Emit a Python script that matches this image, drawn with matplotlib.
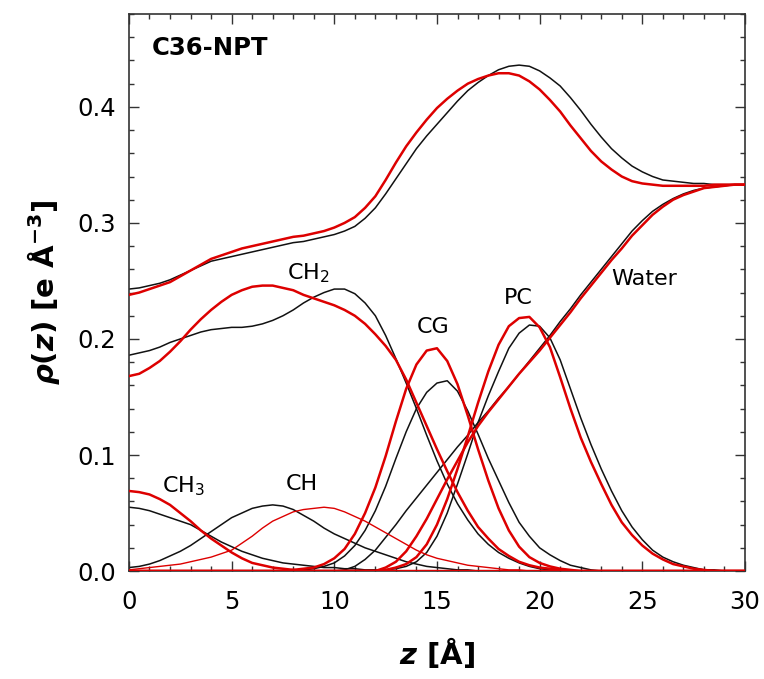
import matplotlib
matplotlib.use("Agg")
import matplotlib.pyplot as plt
import numpy as np

# z positions (Å), 0 to 30 in 0.5 steps
z = np.arange(0, 30.01, 0.5)

# Electron density profiles (e/Å^3); *_sim = black curves, *_fit = red curves
total_sim = [0.243, 0.244, 0.246, 0.248, 0.251, 0.255, 0.259, 0.263, 0.267, 0.269,
             0.271, 0.273, 0.275, 0.277, 0.279, 0.281, 0.283, 0.284, 0.286, 0.288,
             0.290, 0.293, 0.297, 0.304, 0.313, 0.325, 0.338, 0.351, 0.364, 0.375,
             0.385, 0.395, 0.405, 0.414, 0.421, 0.427, 0.432, 0.435, 0.436, 0.435,
             0.431, 0.425, 0.418, 0.408, 0.397, 0.385, 0.374, 0.364, 0.356, 0.349,
             0.344, 0.340, 0.337, 0.336, 0.335, 0.334, 0.334, 0.333, 0.333, 0.333, 0.333]
total_fit = [0.238, 0.240, 0.243, 0.246, 0.249, 0.254, 0.259, 0.264, 0.269, 0.272,
             0.275, 0.278, 0.280, 0.282, 0.284, 0.286, 0.288, 0.289, 0.291, 0.293,
             0.296, 0.300, 0.305, 0.313, 0.323, 0.337, 0.352, 0.366, 0.378, 0.389,
             0.399, 0.407, 0.414, 0.420, 0.424, 0.427, 0.429, 0.429, 0.427, 0.422,
             0.415, 0.406, 0.396, 0.384, 0.373, 0.362, 0.353, 0.346, 0.340, 0.336,
             0.334, 0.333, 0.332, 0.332, 0.332, 0.332, 0.332, 0.333, 0.333, 0.333, 0.333]
ch2_sim = [0.186, 0.188, 0.190, 0.193, 0.197, 0.200, 0.203, 0.206, 0.208, 0.209,
           0.210, 0.210, 0.211, 0.213, 0.216, 0.220, 0.225, 0.231, 0.236, 0.240,
           0.243, 0.243, 0.239, 0.231, 0.220, 0.203, 0.183, 0.162, 0.140, 0.117,
           0.095, 0.075, 0.058, 0.044, 0.032, 0.023, 0.016, 0.011, 0.007, 0.004,
           0.002, 0.001, 0, 0, 0, 0, 0, 0, 0, 0,
           0, 0, 0, 0, 0, 0, 0, 0, 0, 0, 0]
ch2_fit = [0.168, 0.170, 0.175, 0.181, 0.189, 0.198, 0.208, 0.217, 0.225, 0.232,
           0.238, 0.242, 0.245, 0.246, 0.246, 0.244, 0.242, 0.238, 0.235, 0.232,
           0.229, 0.225, 0.220, 0.213, 0.204, 0.194, 0.182, 0.165, 0.145, 0.125,
           0.105, 0.086, 0.068, 0.052, 0.038, 0.028, 0.019, 0.013, 0.008, 0.005,
           0.003, 0.002, 0.001, 0, 0, 0, 0, 0, 0, 0,
           0, 0, 0, 0, 0, 0, 0, 0, 0, 0, 0]
ch3_sim = [0.055, 0.054, 0.052, 0.049, 0.046, 0.043, 0.040, 0.035, 0.030, 0.025,
           0.021, 0.017, 0.014, 0.011, 0.009, 0.007, 0.006, 0.005, 0.004, 0.003,
           0.003, 0.002, 0.002, 0.001, 0.001, 0, 0, 0, 0, 0,
           0, 0, 0, 0, 0, 0, 0, 0, 0, 0,
           0, 0, 0, 0, 0, 0, 0, 0, 0, 0,
           0, 0, 0, 0, 0, 0, 0, 0, 0, 0, 0]
ch3_fit = [0.069, 0.068, 0.066, 0.062, 0.057, 0.050, 0.043, 0.035, 0.028, 0.022,
           0.016, 0.011, 0.007, 0.005, 0.003, 0.002, 0.001, 0, 0, 0,
           0, 0, 0, 0, 0, 0, 0, 0, 0, 0,
           0, 0, 0, 0, 0, 0, 0, 0, 0, 0,
           0, 0, 0, 0, 0, 0, 0, 0, 0, 0,
           0, 0, 0, 0, 0, 0, 0, 0, 0, 0, 0]
ch_sim = [0.003, 0.004, 0.006, 0.009, 0.013, 0.017, 0.022, 0.028, 0.034, 0.040,
          0.046, 0.050, 0.054, 0.056, 0.057, 0.056, 0.053, 0.048, 0.043, 0.037,
          0.032, 0.028, 0.024, 0.020, 0.017, 0.014, 0.011, 0.008, 0.006, 0.004,
          0.003, 0.002, 0.001, 0.001, 0, 0, 0, 0, 0, 0,
          0, 0, 0, 0, 0, 0, 0, 0, 0, 0,
          0, 0, 0, 0, 0, 0, 0, 0, 0, 0, 0]
ch_fit = [0.001, 0.002, 0.003, 0.004, 0.005, 0.006, 0.008, 0.010, 0.012, 0.015,
          0.018, 0.024, 0.030, 0.037, 0.043, 0.047, 0.051, 0.053, 0.054, 0.055,
          0.054, 0.051, 0.047, 0.043, 0.038, 0.033, 0.028, 0.023, 0.018, 0.014,
          0.011, 0.009, 0.007, 0.005, 0.004, 0.003, 0.002, 0.001, 0.001, 0,
          0, 0, 0, 0, 0, 0, 0, 0, 0, 0,
          0, 0, 0, 0, 0, 0, 0, 0, 0, 0, 0]
cg_sim = [0, 0, 0, 0, 0, 0, 0, 0, 0, 0,
          0, 0, 0, 0, 0, 0, 0, 0.001, 0.002, 0.004,
          0.007, 0.013, 0.022, 0.035, 0.052, 0.073, 0.097, 0.120, 0.140, 0.154,
          0.162, 0.164, 0.155, 0.138, 0.118, 0.097, 0.078, 0.059, 0.042, 0.030,
          0.020, 0.014, 0.009, 0.005, 0.003, 0.001, 0, 0, 0, 0,
          0, 0, 0, 0, 0, 0, 0, 0, 0, 0, 0]
cg_fit = [0, 0, 0, 0, 0, 0, 0, 0, 0, 0,
          0, 0, 0, 0, 0, 0, 0.001, 0.002, 0.003, 0.006,
          0.011, 0.019, 0.032, 0.050, 0.072, 0.099, 0.129, 0.157, 0.178, 0.190,
          0.192, 0.181, 0.161, 0.134, 0.105, 0.078, 0.054, 0.035, 0.021, 0.012,
          0.007, 0.004, 0.002, 0.001, 0, 0, 0, 0, 0, 0,
          0, 0, 0, 0, 0, 0, 0, 0, 0, 0, 0]
pc_sim = [0, 0, 0, 0, 0, 0, 0, 0, 0, 0,
          0, 0, 0, 0, 0, 0, 0, 0, 0, 0,
          0, 0, 0, 0, 0, 0.001, 0.002, 0.004, 0.008, 0.016,
          0.030, 0.050, 0.075, 0.101, 0.128, 0.151, 0.172, 0.192, 0.205, 0.212,
          0.211, 0.201, 0.182, 0.157, 0.132, 0.109, 0.088, 0.069, 0.052, 0.038,
          0.027, 0.018, 0.012, 0.008, 0.005, 0.003, 0.001, 0.001, 0, 0, 0]
pc_fit = [0, 0, 0, 0, 0, 0, 0, 0, 0, 0,
          0, 0, 0, 0, 0, 0, 0, 0, 0, 0,
          0, 0, 0, 0, 0, 0.001, 0.003, 0.006, 0.012, 0.023,
          0.040, 0.062, 0.088, 0.116, 0.145, 0.172, 0.195, 0.211, 0.218, 0.219,
          0.210, 0.193, 0.167, 0.140, 0.115, 0.094, 0.075, 0.057, 0.042, 0.031,
          0.022, 0.015, 0.010, 0.006, 0.004, 0.002, 0.001, 0, 0, 0, 0]
water_sim = [0, 0, 0, 0, 0, 0, 0, 0, 0, 0,
             0, 0, 0, 0, 0, 0, 0, 0, 0, 0,
             0, 0.001, 0.004, 0.010, 0.018, 0.029, 0.040, 0.052, 0.063, 0.074,
             0.085, 0.096, 0.107, 0.117, 0.128, 0.138, 0.149, 0.159, 0.170, 0.181,
             0.192, 0.203, 0.215, 0.226, 0.238, 0.249, 0.260, 0.271, 0.282, 0.293,
             0.302, 0.310, 0.316, 0.321, 0.325, 0.328, 0.330, 0.331, 0.332, 0.333, 0.333]
water_fit = [0, 0, 0, 0, 0, 0, 0, 0, 0, 0,
             0, 0, 0, 0, 0, 0, 0, 0, 0, 0,
             0, 0, 0, 0, 0, 0.003, 0.008, 0.017, 0.030, 0.045,
             0.062, 0.079, 0.095, 0.111, 0.125, 0.137, 0.148, 0.159, 0.170, 0.180,
             0.190, 0.201, 0.212, 0.223, 0.235, 0.246, 0.257, 0.268, 0.278, 0.289,
             0.298, 0.307, 0.314, 0.320, 0.324, 0.327, 0.330, 0.331, 0.332, 0.333, 0.333]

sim_series = [total_sim, ch2_sim, ch3_sim, ch_sim, cg_sim, pc_sim, water_sim]
fit_series = [total_fit, ch2_fit, ch3_fit, cg_fit, pc_fit, water_fit]

plt.rcParams.update({
    'font.family': ['DejaVu Sans'],
    'mathtext.fontset': 'custom',
    'mathtext.rm': 'DejaVu Sans:bold',
    'mathtext.it': 'DejaVu Sans:italic:bold',
    'mathtext.bf': 'DejaVu Sans:bold',
    'mathtext.sf': 'DejaVu Sans',
})

BLACK = '#111111'
RED = '#dd0000'

fig = plt.figure(figsize=(7.64, 6.79), dpi=100)
ax = fig.add_axes([0.1688, 0.159, 0.8063, 0.8203])

for s in sim_series:
    ax.plot(z, s, color=BLACK, lw=1.1, zorder=2)
for s in fit_series:
    ax.plot(z, s, color=RED, lw=1.8, zorder=3)
ax.plot(z, ch_fit, color=RED, lw=1.0, zorder=3)

ax.set_xlim(0, 30)
ax.set_ylim(0, 0.48)
ax.set_xticks([0, 5, 10, 15, 20, 25, 30])
ax.set_yticks([0.0, 0.1, 0.2, 0.3, 0.4])
ax.set_yticklabels(['0.0', '0.1', '0.2', '0.3', '0.4'])
ax.set_xticks(np.arange(0, 31, 1), minor=True)
ax.set_yticks(np.arange(0, 0.481, 0.02), minor=True)
ax.tick_params(which='both', direction='in', top=True, right=True, width=1.0, color='#333333')
ax.tick_params(which='major', length=7, labelsize=17.5)
ax.tick_params(axis='y', which='major', pad=9)
ax.tick_params(axis='x', which='major', pad=14)
ax.tick_params(which='minor', length=3.5)
for sp in ax.spines.values():
    sp.set_linewidth(1.2)
    sp.set_color('#333333')

lab_fs = 16
ax.text(1.6, 0.068, r'CH$_\mathsf{3}$', fontsize=lab_fs, ha='left', va='baseline')
ax.text(7.65, 0.070, 'CH', fontsize=lab_fs, ha='left', va='baseline')
ax.text(7.7, 0.251, r'CH$_\mathsf{2}$', fontsize=lab_fs, ha='left', va='baseline')
ax.text(14.0, 0.205, 'CG', fontsize=lab_fs, ha='left', va='baseline')
ax.text(18.27, 0.230, 'PC', fontsize=lab_fs, ha='left', va='baseline')
ax.text(23.5, 0.2466, 'Water', fontsize=lab_fs, ha='left', va='baseline')
ax.text(1.1, 0.445, 'C36-NPT', fontsize=17.5, fontweight='bold', ha='left', va='baseline')

fig.text(44 / 764, 1 - 292 / 679, r'$\rho(z)$ [e Å$^{-3}$]', rotation=90,
         ha='center', va='center', fontsize=21, fontweight='bold')
fig.text(437 / 764, 1 - 652 / 679, r'$z$ [Å]', ha='center', va='center',
         fontsize=21, fontweight='bold')

fig.savefig('out.png', dpi=100)
